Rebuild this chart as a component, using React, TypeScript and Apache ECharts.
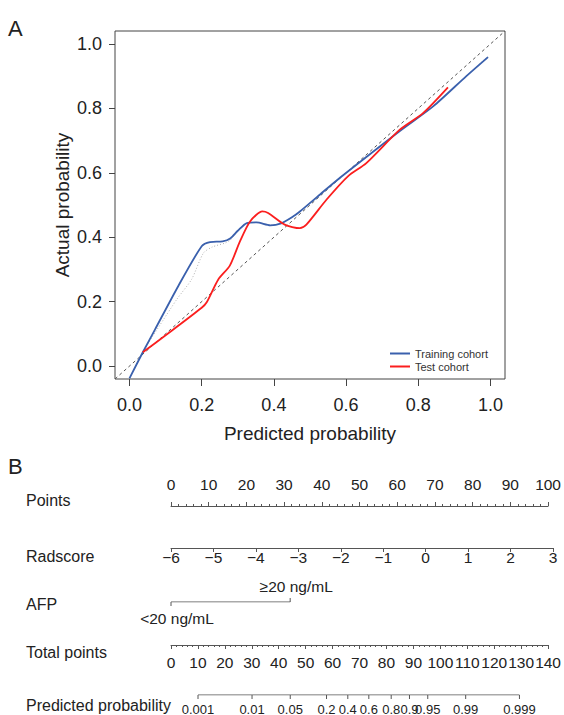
import React, { useEffect, useRef } from "react";
import * as echarts from "echarts";

// ---------- Panel A data ----------
const calTicks = [0, 0.2, 0.4, 0.6, 0.8, 1.0];
const idealLine = [
  [-0.04, -0.04],
  [1.04, 1.04],
];
const trainingCurve = [
  [0.0, -0.038], [0.037, 0.043], [0.071, 0.114], [0.135, 0.248], [0.2, 0.372],
  [0.223, 0.385], [0.258, 0.387], [0.28, 0.397], [0.3, 0.42], [0.325, 0.444],
  [0.352, 0.446], [0.39, 0.437], [0.42, 0.443], [0.45, 0.462], [0.472, 0.48],
  [0.527, 0.532], [0.578, 0.58], [0.656, 0.649], [0.748, 0.729], [0.841, 0.806],
  [0.933, 0.9], [0.993, 0.959],
];
const testCurve = [
  [0.037, 0.043], [0.103, 0.098], [0.2, 0.181], [0.214, 0.198], [0.246, 0.269],
  [0.278, 0.312], [0.306, 0.387], [0.334, 0.449], [0.368, 0.48], [0.384, 0.475],
  [0.43, 0.439], [0.472, 0.428], [0.49, 0.439], [0.546, 0.517], [0.605, 0.589],
  [0.656, 0.63], [0.748, 0.733], [0.813, 0.785], [0.882, 0.865],
];
const apparentCurve = [
  [0.037, 0.045], [0.131, 0.207], [0.172, 0.269], [0.205, 0.351], [0.23, 0.37],
  [0.265, 0.382], [0.28, 0.392], [0.3, 0.42], [0.325, 0.444], [0.352, 0.446],
  [0.39, 0.437], [0.42, 0.443], [0.45, 0.462], [0.472, 0.48], [0.527, 0.532],
  [0.578, 0.58], [0.656, 0.649], [0.748, 0.729], [0.841, 0.806], [0.933, 0.9],
  [0.993, 0.962],
];
const legendNames = ["Training cohort", "Test cohort"];

// ---------- Panel B data ----------
const rowLabels = ["Points", "Radscore", "AFP", "Total points", "Predicted probability"];
const pointsRange = [0, 100];
const radscoreRange = [-6, 3];
const afpLevels = ["<20 ng/mL", "\u226520 ng/mL"];
const afpPoints = [0, 31.2];
const totalPointsRange = [0, 140];
const probLabels = ["0.001", "0.01", "0.05", "0.2", "0.4", "0.6", "0.8", "0.9", "0.95", "0.99", "0.999"];
const probPoints = [9.9, 29.7, 43.7, 57.0, 64.8, 72.5, 80.7, 87.4, 94.1, 108.0, 127.7];

const FONT = '"Liberation Sans", Arial, Helvetica, sans-serif';
const TXT = "#222";
const AX = "#555";

export default function App() {
  const ref = useRef<HTMLDivElement>(null);

  useEffect(() => {
    if (!ref.current) return;
    const chart = echarts.init(ref.current, undefined, { renderer: "svg" });

    const NL = 171;
    const NW = 382;
    const rowY = [500, 556, 604, 652, 705];

    const hiddenX = (gridIndex: number, min: number, max: number) => ({
      type: "value", gridIndex, min, max, show: false,
    });
    const hiddenY = (gridIndex: number) => ({
      type: "value", gridIndex, min: 0, max: 1, show: false,
    });
    const nomoLabel = { fontSize: 15.5, color: TXT, fontFamily: FONT };
    const nomoLine = { show: true, onZero: false, lineStyle: { color: AX, width: 1 } };

    const option: any = {
      animation: false,
      backgroundColor: "#fff",
      textStyle: { fontFamily: FONT },
      grid: [
        { left: 115, top: 31, width: 390, height: 348, show: true, borderColor: "#444", borderWidth: 1, backgroundColor: "transparent" },
        { left: NL, top: 506, width: NW, height: 10 },
        { left: NL, top: 538, width: NW, height: 10 },
        { left: NL, top: 592, width: NW, height: 10 },
        { left: NL, top: 635, width: NW, height: 10 },
        { left: NL, top: 685, width: NW, height: 10 },
      ],
      xAxis: [
        {
          type: "value", gridIndex: 0, min: -0.04, max: 1.04, position: "bottom",
          axisLine: { show: false, onZero: false },
          splitLine: { show: false },
          axisTick: { show: true, customValues: calTicks, length: 7, lineStyle: { color: "#444" } },
          axisLabel: {
            customValues: calTicks, formatter: (v: number) => v.toFixed(1),
            fontSize: 18, color: TXT, margin: 17, fontFamily: FONT,
          },
        },
        {
          type: "value", gridIndex: 1, min: pointsRange[0], max: pointsRange[1], interval: 10,
          position: "top",
          axisLine: nomoLine,
          axisTick: { show: true, length: 4, lineStyle: { color: AX } },
          minorTick: { show: true, splitNumber: 5, length: 2, lineStyle: { color: AX } },
          splitLine: { show: false },
          axisLabel: { ...nomoLabel, margin: 14 },
        },
        {
          type: "value", gridIndex: 2, min: radscoreRange[0], max: radscoreRange[1], interval: 1,
          position: "bottom",
          axisLine: nomoLine,
          axisTick: { show: true, length: 4, lineStyle: { color: AX } },
          splitLine: { show: false },
          axisLabel: {
            ...nomoLabel, margin: 1,
            formatter: (v: number) => (v < 0 ? "\u2212" + Math.abs(v) : String(v)),
          },
        },
        hiddenX(3, pointsRange[0], pointsRange[1]),
        {
          type: "value", gridIndex: 4, min: totalPointsRange[0], max: totalPointsRange[1], interval: 10,
          position: "bottom",
          axisLine: nomoLine,
          axisTick: { show: true, length: 4, lineStyle: { color: AX } },
          minorTick: { show: true, splitNumber: 5, length: 2, lineStyle: { color: AX } },
          splitLine: { show: false },
          axisLabel: { ...nomoLabel, margin: 9 },
        },
        hiddenX(5, totalPointsRange[0], totalPointsRange[1]),
      ],
      yAxis: [
        {
          type: "value", gridIndex: 0, min: -0.04, max: 1.04, position: "left",
          axisLine: { show: false, onZero: false },
          splitLine: { show: false },
          axisTick: { show: true, customValues: calTicks, length: 6, lineStyle: { color: "#444" } },
          axisLabel: {
            customValues: calTicks, formatter: (v: number) => v.toFixed(1),
            fontSize: 18, color: TXT, margin: 13, fontFamily: FONT,
          },
        },
        hiddenY(1), hiddenY(2), hiddenY(3), hiddenY(4), hiddenY(5),
      ],
      legend: {
        data: legendNames,
        orient: "vertical",
        left: 385,
        top: 343,
        icon: "rect",
        itemWidth: 20,
        itemHeight: 2,
        itemGap: 2,
        textStyle: { fontSize: 11, color: "#333", fontFamily: FONT },
      },
      series: [
        {
          type: "line", xAxisIndex: 0, yAxisIndex: 0, data: idealLine, symbol: "none", silent: true,
          lineStyle: { color: "#555", width: 1, type: [3, 3] },
        },
        {
          type: "line", xAxisIndex: 0, yAxisIndex: 0, data: apparentCurve, symbol: "none", smooth: 0.25,
          lineStyle: { color: "#b0b0b0", width: 1, type: [1, 2] },
        },
        {
          name: legendNames[0], type: "line", xAxisIndex: 0, yAxisIndex: 0, data: trainingCurve,
          symbol: "none", smooth: 0.25, clip: false, color: "#3a60ad",
          lineStyle: { color: "#3a60ad", width: 1.8 },
        },
        {
          name: legendNames[1], type: "line", xAxisIndex: 0, yAxisIndex: 0, data: testCurve,
          symbol: "none", smooth: 0.25, clip: false, color: "#fb1e1e",
          lineStyle: { color: "#fb1e1e", width: 1.8 },
        },
        // AFP
        {
          type: "line", xAxisIndex: 3, yAxisIndex: 3, symbol: "none", silent: true,
          data: [[afpPoints[0], 0], [afpPoints[afpPoints.length - 1], 0]],
          lineStyle: { color: AX, width: 1 },
        },
        {
          type: "custom", xAxisIndex: 3, yAxisIndex: 3, clip: false, silent: true,
          data: afpPoints.map((p, i) => [p, 0, i]),
          renderItem: (params: any, api: any) => {
            const pt = api.coord([api.value(0), 0]);
            const i = api.value(2);
            const dir = i % 2 === 0 ? 1 : -1;
            return {
              type: "group",
              children: [
                { type: "line", shape: { x1: pt[0], y1: pt[1], x2: pt[0], y2: pt[1] + dir * 4 }, style: { stroke: AX, lineWidth: 1 } },
                {
                  type: "text", x: pt[0] + 6, y: pt[1] + dir * 16,
                  style: { text: afpLevels[i], textAlign: "center", textVerticalAlign: "middle", align: "center", verticalAlign: "middle", fontSize: 15.5, fontFamily: FONT, fill: TXT },
                },
              ],
            };
          },
        },
        // Predicted probability
        {
          type: "line", xAxisIndex: 5, yAxisIndex: 5, symbol: "none", silent: true,
          data: [[probPoints[0], 0], [probPoints[probPoints.length - 1], 0]],
          lineStyle: { color: AX, width: 1 },
        },
        {
          type: "custom", xAxisIndex: 5, yAxisIndex: 5, clip: false, silent: true,
          data: probPoints.map((p, i) => [p, 0, i]),
          renderItem: (params: any, api: any) => {
            const pt = api.coord([api.value(0), 0]);
            const i = api.value(2);
            return {
              type: "group",
              children: [
                { type: "line", shape: { x1: pt[0], y1: pt[1], x2: pt[0], y2: pt[1] + 4 }, style: { stroke: AX, lineWidth: 1 } },
                {
                  type: "text", x: pt[0], y: pt[1] + 14,
                  style: { text: probLabels[i], textAlign: "center", textVerticalAlign: "middle", align: "center", verticalAlign: "middle", fontSize: 13, fontFamily: FONT, fill: TXT },
                },
              ],
            };
          },
        },
      ],
      graphic: [
        { type: "text", x: 8, y: 28, style: { text: "A", fontSize: 22, fontFamily: FONT, fill: TXT, textVerticalAlign: "middle", verticalAlign: "middle" } },
        { type: "text", x: 8, y: 466, style: { text: "B", fontSize: 22, fontFamily: FONT, fill: TXT, textVerticalAlign: "middle", verticalAlign: "middle" } },
        {
          type: "text", x: 62, y: 205, rotation: Math.PI / 2,
          style: { text: "Actual probability", fontSize: 19, fontFamily: FONT, fill: TXT, textAlign: "center", align: "center", textVerticalAlign: "middle", verticalAlign: "middle" },
        },
        {
          type: "text", x: 310, y: 433,
          style: { text: "Predicted probability", fontSize: 19, fontFamily: FONT, fill: TXT, textAlign: "center", align: "center", textVerticalAlign: "middle", verticalAlign: "middle" },
        },
        ...rowLabels.map((t, i) => ({
          type: "text", x: 26, y: rowY[i],
          style: { text: t, fontSize: 16, fontFamily: FONT, fill: TXT, textVerticalAlign: "middle", verticalAlign: "middle" },
        })),
      ],
    };

    chart.setOption(option);
    return () => chart.dispose();
  }, []);

  return (
    <div
      ref={ref}
      style={{ position: "fixed", left: 0, top: 0, width: 564, height: 715, background: "#fff" }}
    />
  );
}
